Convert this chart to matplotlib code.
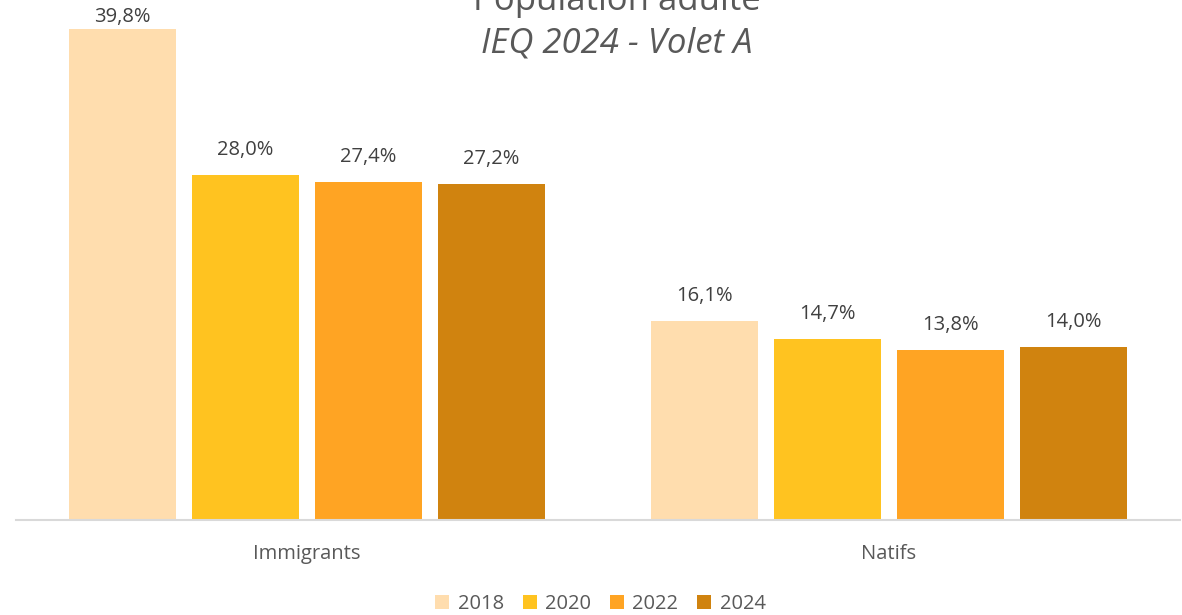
import matplotlib
matplotlib.use("Agg")
import matplotlib.pyplot as plt
import numpy as np

categories = ["Immigrants", "Natifs"]
years = ["2018", "2020", "2022", "2024"]
values_2018 = [39.8, 16.1]
values_2020 = [28.0, 14.7]
values_2022 = [27.4, 13.8]
values_2024 = [27.2, 14.0]
series = [values_2018, values_2020, values_2022, values_2024]
colors = ["#FFDDAE", "#FFC320", "#FFA423", "#D0830F"]

title_line1 = "Population adulte"
title_line2 = "IEQ 2024 - Volet A"

plt.rcParams['font.family'] = ['Open Sans', 'DejaVu Sans']

W, H = 1182, 615
fig = plt.figure(figsize=(W / 100, H / 100), dpi=100)
fig.patch.set_facecolor("white")

base_px = 520
px_per_unit = 12.337
ax = fig.add_axes([16 / W, (H - base_px) / H, (1180 - 16) / W, base_px / H])
ax.set_facecolor("none")
ymax = base_px / px_per_unit

x = np.arange(len(categories))
step = 123 / 582
width = 107 / 582
offsets = (np.arange(len(years)) - 1.5) * step

label_gap_px = 25      # label centre above bar top
label_min_top_px = 17  # label centre cannot go above this (from figure top)

for i, (yr, vals, c) in enumerate(zip(years, series, colors)):
    bars = ax.bar(x + offsets[i], vals, width=width, color=c, label=yr, zorder=2)
    for xi, v in zip(x + offsets[i], vals):
        y_px = v * px_per_unit + label_gap_px
        y_px = min(y_px, base_px - label_min_top_px)
        ax.text(xi, y_px / px_per_unit, f"{v:.1f}%".replace(".", ","),
                ha="center", va="center", fontsize=14.5, color="#404040")

ax.set_xlim(-0.5, 1.5)
ax.set_ylim(0, ymax)
for s in ["top", "right", "left"]:
    ax.spines[s].set_visible(False)
ax.spines["bottom"].set_color("#D9D9D9")
ax.spines["bottom"].set_linewidth(1.5)
ax.spines["bottom"].set_zorder(3)
ax.set_yticks([])
ax.set_xticks(x)
ax.set_xticklabels(categories, fontsize=14.5, color="#595959")
ax.tick_params(axis="x", length=0, pad=17)

fig.text(0.522, 1 - 10 / H, title_line1, ha="center", va="baseline",
         fontsize=25, color="#595959")
fig.text(0.522, 1 - 53 / H, title_line2, ha="center", va="baseline",
         fontsize=25, color="#595959", style="italic")

handles, labels = ax.get_legend_handles_labels()
leg = fig.legend(handles, labels, loc="center", bbox_to_anchor=(0.508, 1 - 604 / H),
                 ncol=4, frameon=False, fontsize=14.5, handlelength=0.7,
                 handleheight=0.7, handletextpad=0.4, columnspacing=0.95,
                 labelcolor="#595959")

fig.savefig("out.png", dpi=100, facecolor="white")
